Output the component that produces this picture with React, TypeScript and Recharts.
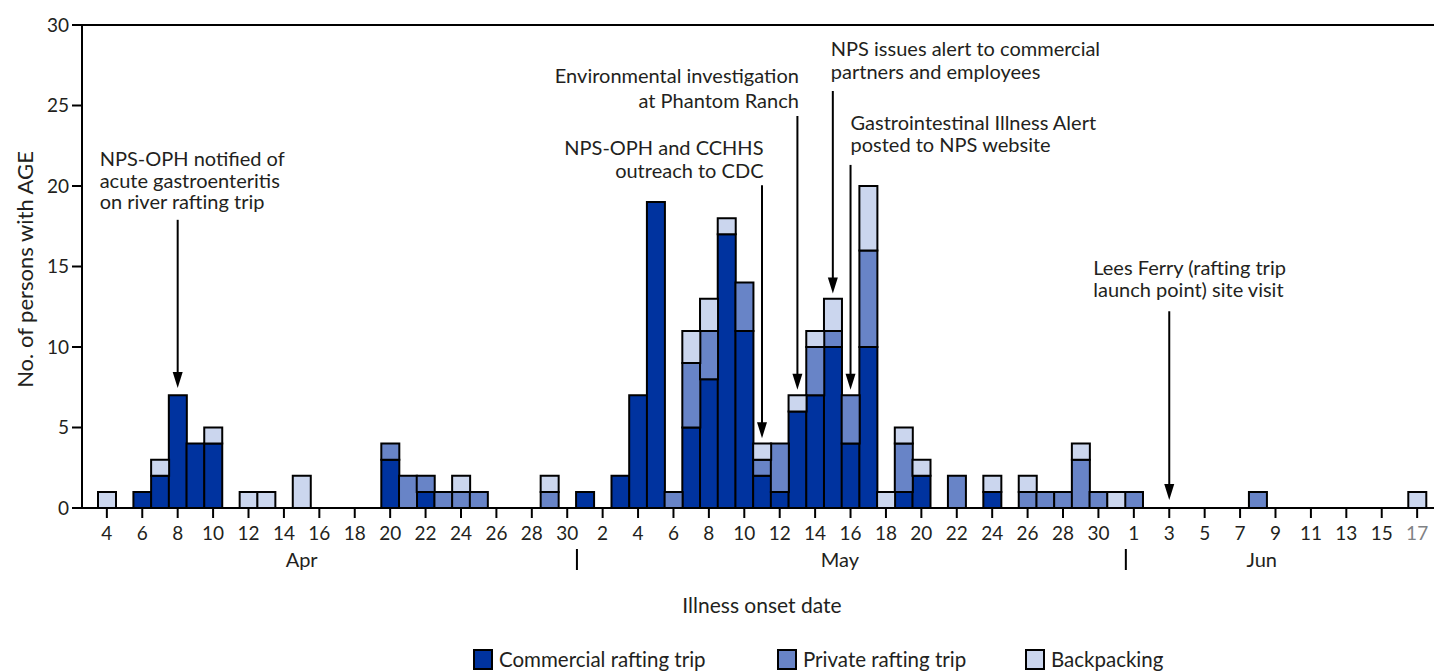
import React from 'react';
import { BarChart, Bar, XAxis, YAxis, ReferenceLine, ReferenceDot } from 'recharts';

// calendar of onset dates shown on the axis
const monthNames = ['Apr', 'May', 'Jun'];
const monthFirstDay = [4, 1, 1];
const monthLastDay = [30, 31, 17];
const dates: string[] = [];
monthNames.forEach((m, k) => {
  for (let d = monthFirstDay[k]; d <= monthLastDay[k]; d++) dates.push(`${m} ${d}`);
});

// counts per day, Apr 4 -> Jun 17
const commercial = [
  0, 0, 1, 2, 7, 4, 4, 0, 0, 0, 0, 0, 0, 0, 0, 0, 3, 0, 1, 0, 0, 0, 0, 0, 0, 0, 0,
  1, 0, 2, 7, 19, 0, 5, 8, 17, 11, 2, 1, 6, 7, 10, 4, 10, 0, 1, 2, 0, 0, 0, 1, 0, 0, 0, 0, 0, 0, 0,
  0, 0, 0, 0, 0, 0, 0, 0, 0, 0, 0, 0, 0, 0, 0, 0, 0,
];
const privateTrip = [
  0, 0, 0, 0, 0, 0, 0, 0, 0, 0, 0, 0, 0, 0, 0, 0, 1, 2, 1, 1, 1, 1, 0, 0, 0, 1, 0,
  0, 0, 0, 0, 0, 1, 4, 3, 0, 3, 1, 3, 0, 3, 1, 3, 6, 0, 3, 0, 0, 2, 0, 0, 0, 1, 1, 1, 3, 1, 0,
  1, 0, 0, 0, 0, 0, 0, 1, 0, 0, 0, 0, 0, 0, 0, 0, 0,
];
const backpacking = [
  1, 0, 0, 1, 0, 0, 1, 0, 1, 1, 0, 2, 0, 0, 0, 0, 0, 0, 0, 0, 1, 0, 0, 0, 0, 1, 0,
  0, 0, 0, 0, 0, 0, 2, 2, 1, 0, 1, 0, 1, 1, 2, 0, 4, 1, 1, 1, 0, 0, 0, 1, 0, 1, 0, 0, 1, 0, 1,
  0, 0, 0, 0, 0, 0, 0, 0, 0, 0, 0, 0, 0, 0, 0, 0, 1,
];

const yTicks = [0, 5, 10, 15, 20, 25, 30];

const monthLabels = [
  { date: 'Apr 15', text: 'Apr', dx: 0 },
  { date: 'May 15', text: 'May', dx: 7 },
  { date: 'Jun 8', text: 'Jun', dx: 4 },
];
const monthStarts = ['May 1', 'Jun 1'];

const annotations = [
  { date: 'Apr 8', top: 17.9, tip: 7.45, textY: 21.65, dx: -78, anchor: 'start', gap: 21.5,
    lines: ['NPS-OPH notified of', 'acute gastroenteritis', 'on river rafting trip'] },
  { date: 'May 11', top: 20.05, tip: 4.33, textY: 22.38, dx: 1.5, anchor: 'end', gap: 23,
    lines: ['NPS-OPH and CCHHS', 'outreach to CDC'] },
  { date: 'May 13', top: 24.35, tip: 7.34, textY: 26.84, dx: 1.5, anchor: 'end', gap: 25,
    lines: ['Environmental investigation', 'at Phantom Ranch'] },
  { date: 'May 15', top: 25.9, tip: 13.32, textY: 28.5, dx: -2, anchor: 'start', gap: 23,
    lines: ['NPS issues alert to commercial', 'partners and employees'] },
  { date: 'May 16', top: 21.31, tip: 7.34, textY: 23.94, dx: 0, anchor: 'start', gap: 22,
    lines: ['Gastrointestinal Illness Alert', 'posted to NPS website'] },
  { date: 'Jun 3', top: 12.22, tip: 0.5, textY: 14.93, dx: -76, anchor: 'start', gap: 22,
    lines: ['Lees Ferry (rafting trip', 'launch point) site visit'] },
];

const series = [
  { key: 'commercial', name: 'Commercial rafting trip', color: '#00339f' },
  { key: 'private', name: 'Private rafting trip', color: '#6884c7' },
  { key: 'backpacking', name: 'Backpacking', color: '#cbd6ee' },
];

const data = dates.map((d, i) => ({
  date: d,
  commercial: commercial[i],
  private: privateTrip[i],
  backpacking: backpacking[i],
}));

const FONT = 'Lato, "Open Sans", sans-serif';
const INK = '#231f20';

const DayTick = (props: any) => {
  const { x, y, payload, index } = props;
  const ay = y - 10;
  const day = String(payload.value).split(' ')[1];
  const month = monthLabels.find((m) => m.date === payload.value);
  const isStart = monthStarts.includes(payload.value);
  return (
    <g>
      {index % 2 === 0 && (
        <>
          <line x1={x} x2={x} y1={ay} y2={ay + 10} stroke="#000" strokeWidth={2} />
          <text x={x} y={ay + 32} textAnchor="middle" fontSize={19} fontFamily={FONT}
            fill={payload.value === 'Jun 17' ? '#808285' : INK}>{day}</text>
        </>
      )}
      {month && (
        <text x={x + month.dx} y={ay + 59} textAnchor="middle" fontSize={20} fontFamily={FONT} fill={INK}>
          {month.text}
        </text>
      )}
      {isStart && <line x1={x - 8} x2={x - 8} y1={ay + 41} y2={ay + 62} stroke="#000" strokeWidth={2} />}
    </g>
  );
};

const YLabel = () => (
  <text x={33} y={269.5} transform="rotate(-90, 33, 269.5)" textAnchor="middle"
    fontSize={22} fontFamily={FONT} fill={INK}>No. of persons with AGE</text>
);

export default function App() {
  return (
    <div style={{ position: 'absolute', left: 0, top: 0, width: 1434, height: 671, fontFamily: FONT, color: INK }}>
      <BarChart width={1434} height={671} data={data} margin={{ top: 25, right: 0, bottom: 0, left: 0 }}
        barCategoryGap={0} barGap={0}>
        <XAxis dataKey="date" interval={0} tick={<DayTick />} tickLine={false} tickSize={10} tickMargin={0}
          height={163} axisLine={{ stroke: '#000', strokeWidth: 2 }} padding={{ left: 16, right: 8 }} />
        <YAxis domain={[0, 30]} ticks={yTicks} width={82} tickSize={10} tickMargin={3}
          axisLine={{ stroke: '#000', strokeWidth: 2 }} tickLine={{ stroke: '#000', strokeWidth: 2 }}
          tick={{ fontSize: 19, fill: INK, fontFamily: FONT }} label={{ content: <YLabel /> }} />
        <ReferenceLine y={30} stroke="#000" strokeWidth={2} />
        {series.map((s) => (
          <Bar key={s.key} dataKey={s.key} name={s.name} stackId="a" fill={s.color}
            stroke="#000" strokeWidth={2} isAnimationActive={false} />
        ))}
        {annotations.map((a, i) => (
          <ReferenceLine key={`shaft${i}`} segment={[{ x: a.date, y: a.top }, { x: a.date, y: a.tip + 0.6 }]}
            stroke="#000" strokeWidth={2} />
        ))}
        {annotations.map((a, i) => (
          <ReferenceDot key={`head${i}`} x={a.date} y={a.tip}
            shape={(p: any) => <path d={`M${p.cx},${p.cy} l-5,-16 l10,0 z`} fill="#000" />} />
        ))}
        {annotations.map((a, i) => (
          <ReferenceDot key={`text${i}`} x={a.date} y={a.textY}
            shape={(p: any) => (
              <g>
                {a.lines.map((l, j) => (
                  <text key={j} x={p.cx + a.dx} y={p.cy + 7 + j * a.gap} textAnchor={a.anchor}
                    fontSize={20} fontFamily={FONT} fill={INK}>{l}</text>
                ))}
              </g>
            )} />
        ))}
      </BarChart>
      <div style={{ position: 'absolute', left: 0, width: 1524, top: 592, textAlign: 'center', fontSize: 21, lineHeight: '26px' }}>
        Illness onset date
      </div>
      {series.map((s, i) => (
        <div key={s.key} style={{ position: 'absolute', left: [473, 777, 1025][i], top: 647, display: 'flex', alignItems: 'center', fontSize: 20.5, lineHeight: '24px', whiteSpace: 'nowrap' }}>
          <span style={{ display: 'inline-block', width: 16, height: 17, background: s.color, border: '2px solid #000', marginRight: 6 }} />
          {s.name}
        </div>
      ))}
    </div>
  );
}
